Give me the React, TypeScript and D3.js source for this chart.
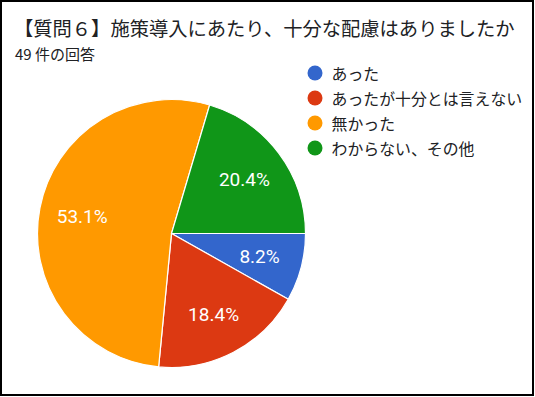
import React from 'react'
import * as d3 from 'd3'

const title = '【質問６】施策導入にあたり、十分な配慮はありましたか'
const subtitle = '49 件の回答'
const categories = ['あった', 'あったが十分とは言えない', '無かった', 'わからない、その他']
const counts = [4, 9, 26, 10]
const colors = ['#3366cc', '#dc3912', '#ff9900', '#109618']

const width = 535
const height = 397
const cx = 171.5
const cy = 233.5
const radius = 134

export default function App() {
    const total = d3.sum(counts)

    // google forms pie begins at 3 o'clock and runs clockwise
    const pie = d3
        .pie<number>()
        .sort(null)
        .startAngle(Math.PI / 2)
        .endAngle(Math.PI / 2 + Math.PI * 2)
    const arcs = pie(counts)

    const arc = d3.arc<d3.PieArcDatum<number>>().innerRadius(0).outerRadius(radius)
    const labelArc = d3.arc<d3.PieArcDatum<number>>().innerRadius(91).outerRadius(91)

    const fmt = d3.format('.1%')
    const cjk = '"Noto Sans CJK JP", "Noto Sans", sans-serif'

    return (
        <svg
            width={width}
            height={height}
            style={{ position: 'fixed', left: 0, top: 0, background: '#fff' }}
        >
            <rect x={1} y={1} width={532} height={394} fill="#fff" stroke="#000" strokeWidth={2} />

            <text x={14} y={36} fontFamily={cjk} fontSize={19.3} fill="#202124">
                {title}
            </text>
            <text x={15} y={59.5} fontFamily={cjk} fontSize={15} fill="#202124">
                {subtitle}
            </text>

            <g transform={`translate(${cx},${cy})`}>
                {arcs.map((d, i) => (
                    <path key={i} d={arc(d) || ''} fill={colors[i]} stroke="#fff" strokeWidth={1.2} />
                ))}
                {arcs.map((d, i) => {
                    const [x, y] = labelArc.centroid(d)
                    return (
                        <text
                            key={i}
                            x={x}
                            y={y}
                            textAnchor="middle"
                            dominantBaseline="central"
                            fontFamily="Roboto, Arial, sans-serif"
                            fontSize={19}
                            fill="#fff"
                        >
                            {fmt(d.data / total)}
                        </text>
                    )
                })}
            </g>

            <g>
                {categories.map((c, i) => (
                    <g key={c} transform={`translate(315,${73 + i * 25})`}>
                        <circle r={7.5} fill={colors[i]} />
                        <text x={16.5} y={0} dominantBaseline="central" fontFamily={cjk} fontSize={15.9} fill="#202124">
                            {c}
                        </text>
                    </g>
                ))}
            </g>
        </svg>
    )
}
